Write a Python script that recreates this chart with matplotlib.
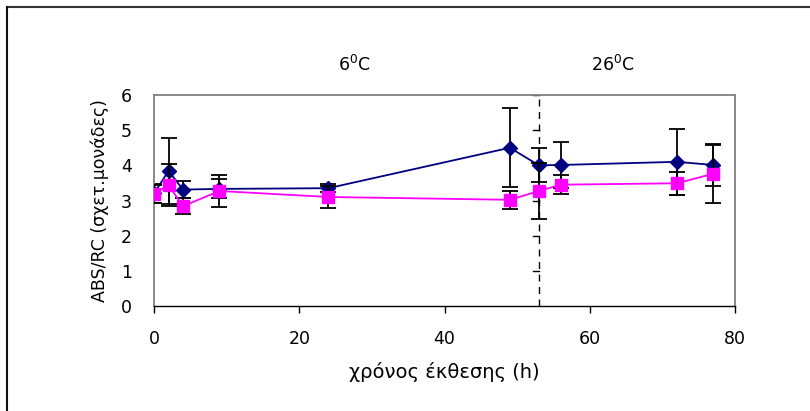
import matplotlib
matplotlib.use("Agg")
import matplotlib.pyplot as plt
from matplotlib.lines import Line2D

hours = [0, 2, 4, 9, 24, 49, 53, 56, 72, 77]
blue_vals = [3.20, 3.84, 3.31, 3.33, 3.35, 4.50, 4.00, 4.01, 4.10, 4.01]
blue_err = [0.26, 0.94, 0.25, 0.27, 0.12, 1.13, 0.48, 0.66, 0.94, 0.60]
pink_vals = [3.19, 3.44, 2.84, 3.27, 3.10, 3.02, 3.27, 3.45, 3.49, 3.76]
pink_err = [0.26, 0.60, 0.22, 0.45, 0.32, 0.25, 0.80, 0.27, 0.32, 0.83]
x_ticks = [0, 20, 40, 60, 80]
y_ticks = [0, 1, 2, 3, 4, 5, 6]
switch_hour = 53

plt.rcParams['font.family'] = ['DejaVu Sans']

fig = plt.figure(figsize=(8.1, 4.11), dpi=100)
ax = fig.add_axes([154/810, 1-306/411, (735-154)/810, (306-95)/411])

ax.errorbar(hours, pink_vals, yerr=pink_err, color='#FF00FF', marker='s',
            markersize=9, linewidth=1.3, ecolor='black', elinewidth=1.3,
            capsize=5.5, capthick=1.3, zorder=3)
ax.errorbar(hours, blue_vals, yerr=blue_err, color='#000080', marker='D',
            markersize=7, linewidth=1.3, ecolor='black', elinewidth=1.3,
            capsize=5.5, capthick=1.3, zorder=2)

ax.axvline(switch_hour, color='black', linestyle=(0, (5, 4)), linewidth=1, zorder=1)
for yv in y_ticks[1:]:
    ax.plot([switch_hour - 0.8, switch_hour], [yv, yv], color='black', linewidth=1, zorder=1)

ax.set_xlim(0, 80)
ax.set_ylim(0, 6)
ax.set_xticks(x_ticks)
ax.set_yticks(y_ticks)
ax.tick_params(axis='x', direction='out', length=5, width=1, labelsize=12.5, pad=12, colors='black')
ax.tick_params(axis='y', length=0, labelsize=12.5, pad=16)
for s in ['top', 'right', 'left']:
    ax.spines[s].set_color('#808080')
    ax.spines[s].set_linewidth(1.3)
ax.spines['bottom'].set_color('black')
ax.spines['bottom'].set_linewidth(1)

ax.set_xlabel('χρόνος έκθεσης (h)', fontsize=14, labelpad=10)
ax.set_ylabel('ABS/RC (σχετ.μονάδες)', fontsize=12.5, labelpad=12)
ax.yaxis.set_label_coords(-(154-109)/581, 0.5)

fig.text(354/810, 1-65/411, '6$^{\\mathregular{0}}$C', fontsize=12.5, ha='center', va='center')
fig.text(613/810, 1-65/411, '26$^{\\mathregular{0}}$C', fontsize=12.5, ha='center', va='center')

fig.add_artist(Line2D([7/810, 1], [1-7/411, 1-7/411], color='#333333', linewidth=1.5, transform=fig.transFigure))
fig.add_artist(Line2D([7/810, 7/810], [0, 1-7/411], color='#111111', linewidth=1.5, transform=fig.transFigure))

fig.savefig('out.png', dpi=100)
